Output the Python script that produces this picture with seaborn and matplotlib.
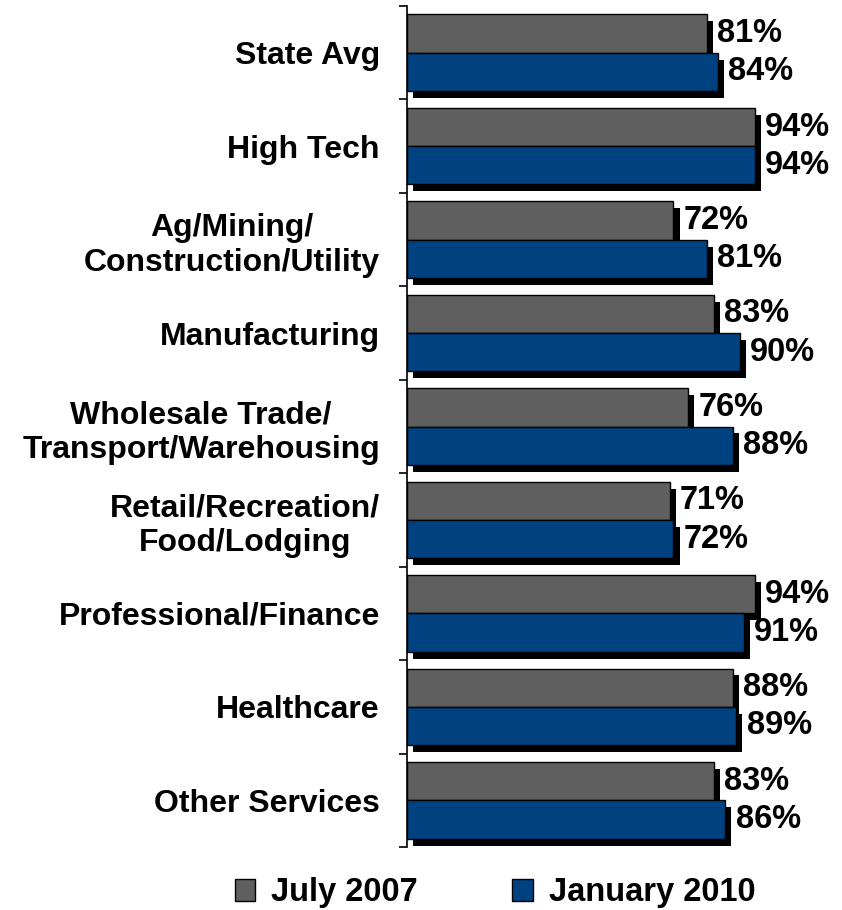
import pandas as pd
import seaborn as sns
import matplotlib.pyplot as plt
import matplotlib.patheffects as pe
from matplotlib.patches import Patch

categories = ["State Avg", "High Tech", "Ag/Mining/\nConstruction/Utility", "Manufacturing",
              "Wholesale Trade/\nTransport/Warehousing", "Retail/Recreation/\nFood/Lodging",
              "Professional/Finance", "Healthcare", "Other Services"]
july_2007 = [81, 94, 72, 83, 76, 71, 94, 88, 83]
jan_2010 = [84, 94, 81, 90, 88, 72, 91, 89, 86]
series = ["July 2007", "January 2010"]
colors = ["#5F5F5F", "#00417F"]

df = pd.DataFrame({"category": categories * 2,
                   "period": [series[0]] * len(categories) + [series[1]] * len(categories),
                   "value": july_2007 + jan_2010})

sns.set_theme(style="white")
plt.rcParams["font.family"] = ["Liberation Sans", "DejaVu Sans"]
plt.rcParams["font.weight"] = "bold"
plt.rcParams["text.color"] = "black"
plt.rcParams["ytick.labelcolor"] = "black"

fig = plt.figure(figsize=(8.42, 9.10), dpi=100)
ax = fig.add_axes([407 / 842, 63 / 910, 435 / 842, 841 / 910])

sns.barplot(data=df, y="category", x="value", hue="period", orient="h",
            palette=colors, width=0.82, edgecolor="black", linewidth=1,
            saturation=1, legend=False, ax=ax)

# drop shadow like the old office charts
for p in ax.patches:
    p.set_path_effects([pe.SimplePatchShadow(offset=(4.5, -5), shadow_rgbFace="black", alpha=1.0),
                        pe.Normal()])

for cont in ax.containers:
    ax.bar_label(cont, fmt="%d%%", padding=7.5, fontsize=23.5, fontweight="bold", color="black")

ax.set_xlim(0, 117.6)
ax.set_ylim(len(categories) - 0.5, -0.5)
ax.set_xlabel("")
ax.set_ylabel("")
ax.xaxis.set_visible(False)
for s in ["top", "right", "bottom"]:
    ax.spines[s].set_visible(False)
ax.spines["left"].set_color("black")
ax.spines["left"].set_linewidth(1.2)

ax.set_yticks(range(len(categories)))
ax.set_yticklabels(categories, fontsize=23, fontweight="bold", color="black", multialignment="center")
ax.tick_params(axis="y", which="major", length=0, pad=19.5)
ax.set_yticks([i - 0.5 for i in range(len(categories) + 1)], minor=True)
ax.tick_params(axis="y", which="minor", length=6, width=1.2, color="black", direction="out", left=True)

handles = [Patch(facecolor=c, edgecolor="black", linewidth=1) for c in colors]
fig.legend(handles, series, loc="center", bbox_to_anchor=(0.588, 1 - 893 / 910), ncol=2,
           frameon=False, prop={"size": 23.5, "weight": "bold"},
           handlelength=0.62, handleheight=0.62, handletextpad=0.5, columnspacing=2.9)

fig.savefig("out.png", dpi=100)
